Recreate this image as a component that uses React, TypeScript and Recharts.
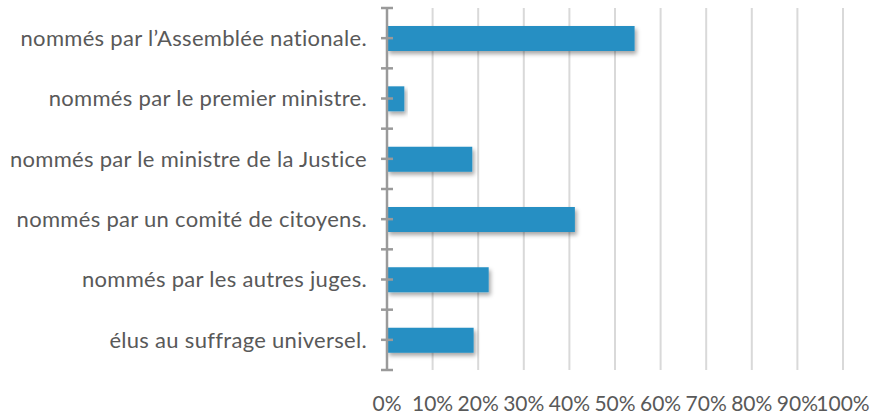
import { BarChart, Bar, XAxis, YAxis, CartesianGrid } from 'recharts'

const categories = [
  'nommés par l’Assemblée nationale.',
  'nommés par le premier ministre.',
  'nommés par le ministre de la Justice',
  'nommés par un comité de citoyens.',
  'nommés par les autres juges.',
  'élus au suffrage universel.',
]
const shares = [54.3, 3.8, 18.7, 41.2, 22.3, 19.0]
const xTicks = [0, 10, 20, 30, 40, 50, 60, 70, 80, 90, 100]

const data = categories.map((name, i) => ({ name, value: shares[i] }))

const FONT = 'Lato, sans-serif'
const AXIS_GREY = '#9a9a9a'
const TEXT = '#595959'

// category label plus Excel-style tick marks crossing the axis at the band
// centre and at the band edges
function CategoryTick(props: any) {
  const { x, y, payload, index, visibleTicksCount } = props
  const half = payload?.offset ?? 30
  const axisX = x + 20
  const marks = [y, y - half]
  if (index === visibleTicksCount - 1) marks.push(y + half)
  return (
    <g>
      {marks.map((my, i) => (
        <line key={i} x1={axisX - 6} x2={axisX + 6} y1={my} y2={my} stroke={AXIS_GREY} strokeWidth={2.5} />
      ))}
      <text
        x={x}
        y={y}
        dy="0.355em"
        textAnchor="end"
        fill={TEXT}
        fontSize={22}
        fontFamily={FONT}
        letterSpacing={0.3}
      >
        {payload.value}
      </text>
    </g>
  )
}

export default function App() {
  return (
    <div style={{ position: 'absolute', left: 0, top: 0, background: '#fff' }}>
      <BarChart
        width={872}
        height={415}
        data={data}
        layout="vertical"
        margin={{ top: 8, right: 29, bottom: 0, left: 0 }}
      >
        <defs>
          <filter id="barShadow" x="-10%" y="-30%" width="130%" height="180%">
            <feDropShadow dx="2" dy="3" stdDeviation="2" floodColor="#000" floodOpacity="0.35" />
          </filter>
        </defs>
        <CartesianGrid
          horizontal={false}
          vertical={true}
          stroke="#d9d9d9"
          strokeWidth={2}
        />
        <XAxis
          type="number"
          domain={[0, 100]}
          ticks={xTicks}
          interval={0}
          height={45}
          tickFormatter={(v: number) => v + '%'}
          axisLine={false}
          tickLine={false}
          tickMargin={20}
          tick={{ fill: TEXT, fontSize: 21, fontFamily: FONT }}
        />
        <YAxis
          type="category"
          dataKey="name"
          width={387}
          interval={0}
          axisLine={{ stroke: AXIS_GREY, strokeWidth: 2.5 }}
          tickLine={false}
          tickSize={0}
          tickMargin={20}
          tick={<CategoryTick />}
        />
        <Bar
          dataKey="value"
          fill="#258fc3"
          barSize={25}
          filter="url(#barShadow)"
          isAnimationActive={false}
        />
      </BarChart>
    </div>
  )
}
